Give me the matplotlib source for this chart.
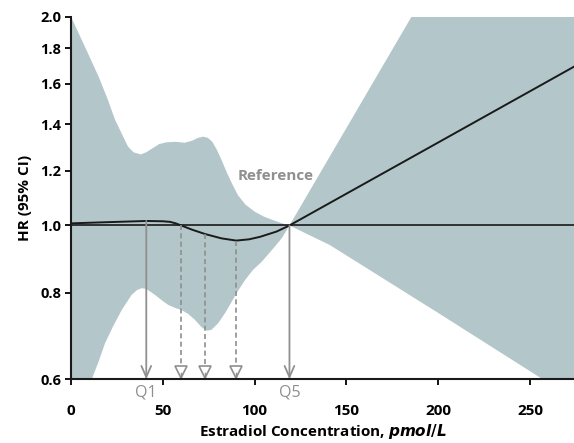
import numpy as np
import matplotlib
matplotlib.use('Agg')
import matplotlib.pyplot as plt
from matplotlib.ticker import FixedLocator, FormatStrFormatter, NullLocator

plt.rcParams['font.family'] = ['Open Sans', 'DejaVu Sans']

# values
upper_x = [0, 8, 15, 20, 24, 28, 31, 34, 38, 41, 44, 48, 52, 57, 62, 66, 69, 72, 74.5,
           77, 79.5, 82, 85, 88, 91, 95, 100, 105, 110, 115, 119, 185.5, 275]
upper_hr = [2.0, 1.80, 1.64, 1.52, 1.42, 1.35, 1.30, 1.275, 1.266, 1.275, 1.29, 1.31,
            1.318, 1.32, 1.316, 1.325, 1.337, 1.343, 1.338, 1.32, 1.285, 1.243, 1.19,
            1.145, 1.105, 1.072, 1.047, 1.03, 1.018, 1.007, 1.0, 2.0, 5.4]
lower_x = [0, 11.3, 15, 18.5, 23, 27.6, 33, 36, 38.5, 41, 45.8, 50, 53, 57, 60.3, 64,
           67.5, 71, 74, 76.5, 80.2, 84, 87.5, 91, 94.8, 99, 104, 111, 115, 119, 141,
           200, 257, 275]
lower_hr = [0.51, 0.6, 0.636, 0.676, 0.716, 0.755, 0.794, 0.807, 0.812, 0.81, 0.794,
            0.778, 0.768, 0.76, 0.755, 0.745, 0.731, 0.714, 0.705, 0.707, 0.723, 0.748,
            0.776, 0.805, 0.834, 0.862, 0.887, 0.932, 0.96, 1.0, 0.937, 0.748, 0.6, 0.57]
est_x = [0, 20, 41, 50, 54, 57, 60, 66, 73, 82, 90, 97, 103, 112, 119, 200, 275]
est_hr = [1.007, 1.011, 1.015, 1.014, 1.012, 1.007, 1.0, 0.986, 0.972, 0.958, 0.951,
          0.955, 0.963, 0.980, 1.0, 1.317, 1.70]

quintile_x = [41, 60, 73, 90, 119]
quintile_hr = [1.015, 1.0, 0.972, 0.951, 1.0]
quintile_solid = [True, False, False, False, True]
quintile_labels = {41: 'Q1', 119: 'Q5'}

yticks = [0.6, 0.8, 1.0, 1.2, 1.4, 1.6, 1.8, 2.0]
xticks = [0, 50, 100, 150, 200, 250]

fig = plt.figure(figsize=(5.74, 4.43), dpi=100)
ax = fig.add_axes([0.1237, 0.1438, 0.8763, 0.8185])

band = '#b3c6c9'
grey = '#8f8f8f'

# confidence band as one polygon: upper edge, then lower edge backwards
ax.fill(upper_x + lower_x[::-1], upper_hr + lower_hr[::-1], color=band, lw=0)

ax.axhline(1.0, color='#1a1a1a', lw=1.2, zorder=3)
ax.plot(est_x, est_hr, color='#1a1a1a', lw=1.4, zorder=4)

for qx, qy, solid in zip(quintile_x, quintile_hr, quintile_solid):
    if solid:
        ax.annotate('', xy=(qx, 0.6), xytext=(qx, qy),
                    arrowprops=dict(arrowstyle='->,head_length=0.8,head_width=0.35',
                                    color=grey, lw=1.3, shrinkA=0, shrinkB=0), zorder=5)
    else:
        ax.plot([qx, qx], [qy, 0.625], color=grey, lw=1.2, ls=(0, (3, 2)), zorder=5)
        ax.plot(qx, 0.614, marker='v', ms=8, mfc='white', mec=grey, mew=1.2, zorder=6)
        ax.plot([qx, qx], [0.612, 0.6], color=grey, lw=1.0, zorder=6)

for qx, lab in quintile_labels.items():
    ax.text(qx, 0.589, lab, color=grey, fontsize=11.5, ha='center', va='top')

ax.text(111.5, 1.18, 'Reference', color=grey, fontsize=11, fontweight='bold',
        ha='center', va='center')

ax.set_yscale('log')
ax.set_ylim(0.6, 2.0)
ax.set_xlim(0, 274)
ax.yaxis.set_major_locator(FixedLocator(yticks))
ax.yaxis.set_minor_locator(NullLocator())
ax.yaxis.set_major_formatter(FormatStrFormatter('%.1f'))
ax.set_xticks(xticks)

for s in ['top', 'right']:
    ax.spines[s].set_visible(False)
for s in ['left', 'bottom']:
    ax.spines[s].set_linewidth(1.5)
    ax.spines[s].set_color('#1a1a1a')
    ax.spines[s].set_zorder(7)

ax.tick_params(axis='y', direction='out', length=4, width=1.3, labelsize=10.5, pad=3)
ax.tick_params(axis='x', direction='out', length=4, width=1.3, labelsize=11, pad=14)
for lab in ax.get_xticklabels() + ax.get_yticklabels():
    lab.set_fontweight('bold')

ax.set_ylabel('HR (95% CI)', fontsize=11, fontweight='bold', labelpad=6)
ax.set_xlabel('Estradiol Concentration, $\\boldsymbol{pmol/L}$', fontsize=11,
              fontweight='bold', labelpad=3)

fig.savefig('out.png', dpi=100)
